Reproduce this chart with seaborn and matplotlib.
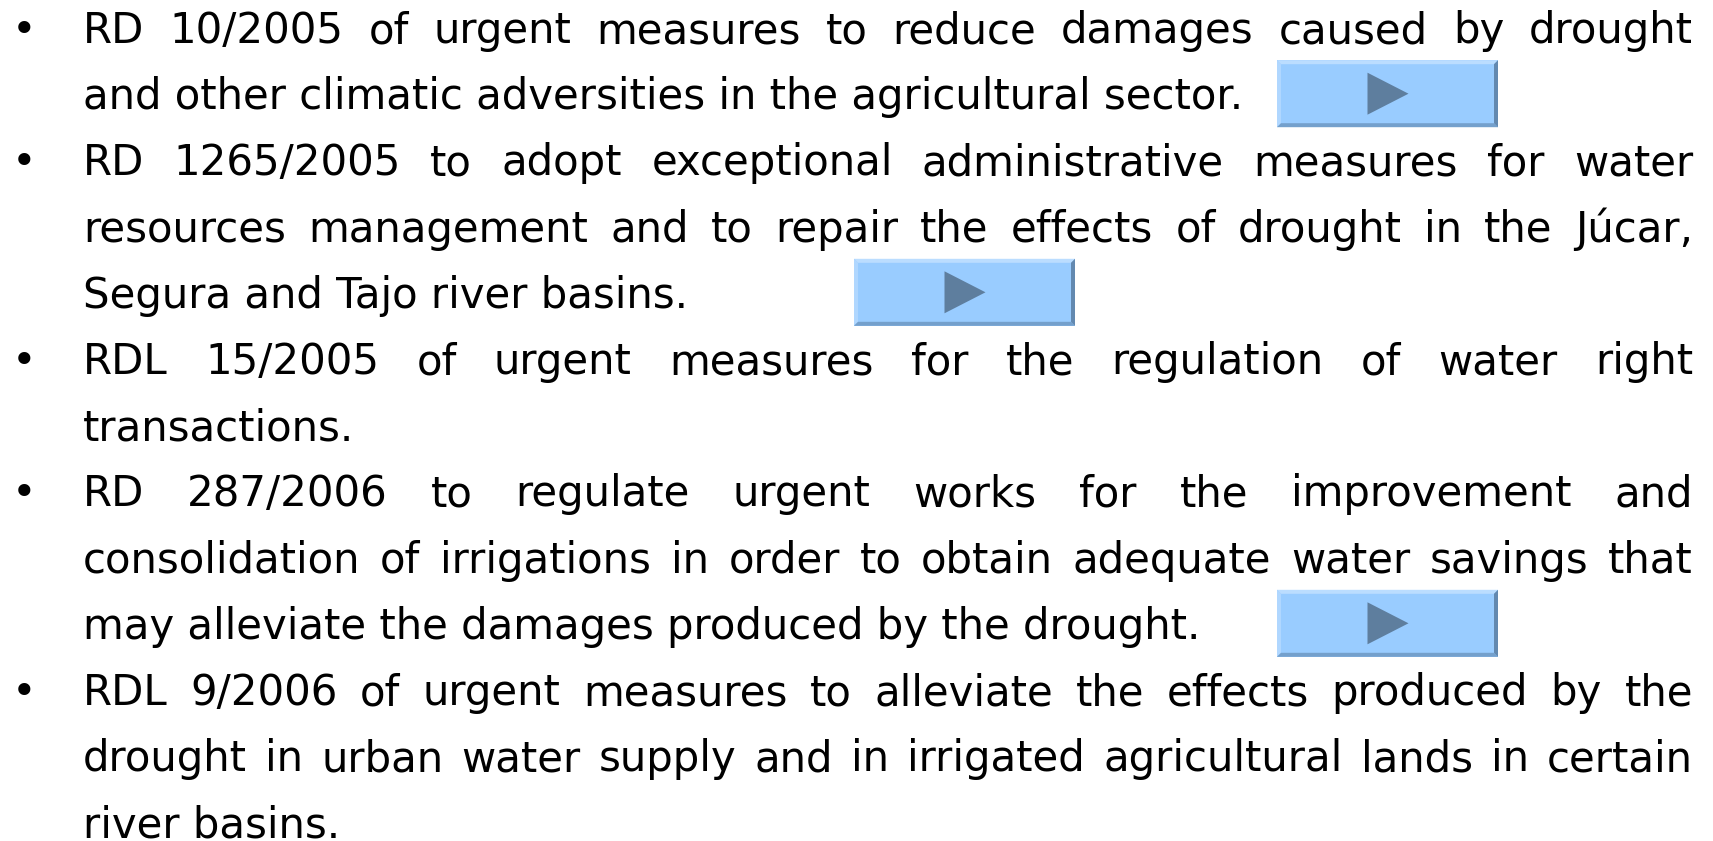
import matplotlib
matplotlib.use('Agg')
import matplotlib.pyplot as plt
import seaborn as sns
from matplotlib.patches import Rectangle, Polygon

# slide text, one entry per printed line
lines = [
    "RD 10/2005 of urgent measures  to reduce damages caused by drought",
    "and other climatic adversities in the agricultural sector.",
    "RD 1265/2005 to adopt exceptional administrative measures for water",
    "resources management and to repair the effects of drought in the  Júcar,",
    "Segura and Tajo river basins.",
    "RDL 15/2005 of urgent measures for the regulation of water right",
    "transactions.",
    "RD 287/2006 to regulate urgent works for the improvement and",
    "consolidation of irrigations in order to obtain adequate water savings that",
    "may alleviate the damages produced by the drought.",
    "RDL 9/2006 of urgent measures to alleviate the effects produced by the",
    "drought in urban water supply and in irrigated agricultural lands in certain",
    "river basins.",
]
# lines that end a paragraph are left aligned, the others justified
justified = [True, False, True, True, False, True, False, True, True, False, True, True, False]
bullet_lines = [0, 2, 5, 7, 10]
# play buttons: (line index, left x)
buttons = [(1, 1277), (4, 854), (9, 1277)]

W, H = 1713, 841
LEFT, RIGHT = 83, 1693
BASE0, STEP = 43, 66.2
FS = 30.2

sns.set_theme(style='white')
plt.rcParams['font.family'] = ['DejaVu Sans']

fig = plt.figure(figsize=(W / 100, H / 100), dpi=100)
ax = fig.add_axes([0, 0, 1, 1])
ax.set_xlim(0, W)
ax.set_ylim(H, 0)
ax.axis('off')

fig.canvas.draw()
renderer = fig.canvas.get_renderer()

kw = dict(fontsize=FS, color='black', va='baseline', ha='left')

for i, (line, just) in enumerate(zip(lines, justified)):
    y = BASE0 + i * STEP
    if i in bullet_lines:
        ax.text(12, y, '•', **kw)
    if not just:
        ax.text(LEFT, y, line, **kw)
        continue
    words = line.split()
    arts = [ax.text(0, y, w, **kw) for w in words]
    widths = [a.get_window_extent(renderer).width for a in arts]
    gap = (RIGHT - LEFT - sum(widths)) / (len(words) - 1)
    x = LEFT
    for a, w in zip(arts, widths):
        a.set_x(x)
        x += w + gap


def draw_button(x0, y0, w=221, h=67, b=4):
    # bevelled light blue button with a play triangle
    ax.add_patch(Rectangle((x0, y0), w, h, facecolor='#99CCFF', edgecolor='none'))
    x1, y1 = x0 + w, y0 + h
    ax.add_patch(Polygon([(x0, y0), (x1, y0), (x1 - b, y0 + b), (x0 + b, y0 + b)],
                         facecolor='#BBDDFF', edgecolor='none'))
    ax.add_patch(Polygon([(x0, y0), (x0 + b, y0 + b), (x0 + b, y1 - b), (x0, y1)],
                         facecolor='#B0D7FF', edgecolor='none'))
    ax.add_patch(Polygon([(x0, y1), (x0 + b, y1 - b), (x1 - b, y1 - b), (x1, y1)],
                         facecolor='#74A0CC', edgecolor='none'))
    ax.add_patch(Polygon([(x1, y0), (x1, y1), (x1 - b, y1 - b), (x1 - b, y0 + b)],
                         facecolor='#6389B0', edgecolor='none'))
    cx, cy = x0 + w * 0.5, y0 + h * 0.5
    ax.add_patch(Polygon([(cx - 20, cy - 21), (cx - 20, cy + 21), (cx + 21, cy)],
                         facecolor='#5E7E9E', edgecolor='none'))


for li, bx in buttons:
    draw_button(bx, BASE0 + li * STEP - 49)

fig.savefig('out.png', dpi=100, facecolor='white')
plt.close(fig)
